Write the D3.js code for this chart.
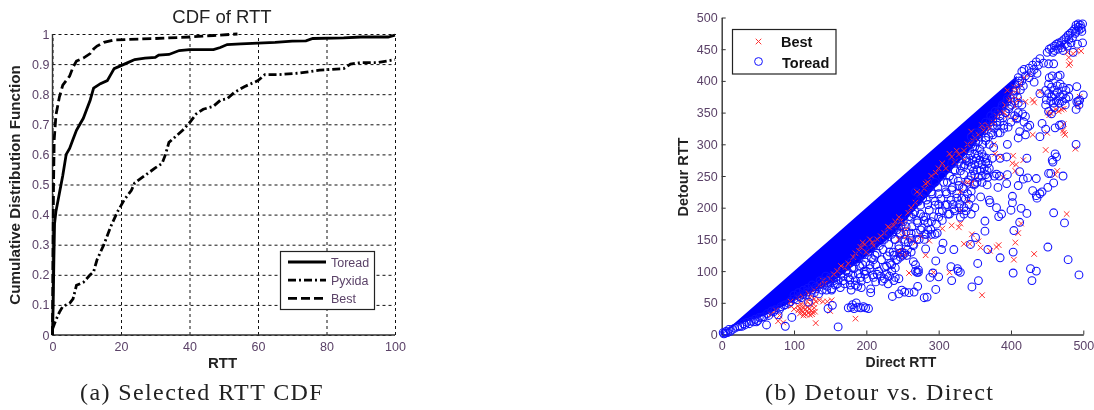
<!DOCTYPE html>
<html>
<head>
<meta charset="utf-8">
<script src="https://cdn.jsdelivr.net/npm/d3@7"></script>
<style>
  html, body { margin: 0; background: #fff; }
  svg { display: block; filter: blur(0.35px); }
  text { font-family: "Liberation Sans", sans-serif; }
  .caption { font-family: "Liberation Serif", serif; font-size: 24px; fill: #222; letter-spacing: 1.4px; }
</style>
</head>
<body>
<svg id="chart" width="1094" height="410"></svg>
<script>
// (a) CDF curves, [rtt, cumulative fraction]
const toreadCdf = [[0,0],[0.2,0.1],[0.4,0.25],[0.6,0.37],[1,0.41],[2,0.47],[3,0.53],[4,0.6],[5,0.62],[6,0.65],[7,0.68],[8,0.7],[9,0.72],[10,0.75],[11,0.78],[12,0.82],[14,0.835],[16,0.845],[17,0.865],[18,0.885],[20,0.895],[22,0.905],[24,0.915],[27,0.92],[30,0.922],[31,0.93],[34,0.932],[37,0.945],[40,0.948],[47,0.948],[49,0.955],[51,0.965],[55,0.967],[60,0.97],[65,0.972],[70,0.976],[74,0.977],[76,0.985],[85,0.987],[90,0.99],[98,0.99],[100,0.996]];
const pyxidaCdf = [[0,0.02],[1,0.05],[2,0.075],[3,0.095],[5,0.105],[6,0.12],[7,0.165],[9,0.175],[11,0.2],[12,0.21],[13,0.25],[15,0.3],[17,0.36],[19,0.41],[21,0.45],[23,0.48],[24,0.505],[27,0.53],[30,0.555],[32,0.57],[33,0.6],[34,0.64],[36,0.66],[38,0.68],[40,0.705],[42,0.735],[44,0.75],[47,0.76],[49,0.78],[51,0.785],[53,0.805],[56,0.825],[60,0.845],[62,0.865],[66,0.865],[72,0.87],[78,0.88],[85,0.885],[87,0.9],[90,0.905],[95,0.905],[100,0.915]];
const bestCdf = [[0,0],[0.1,0.2],[0.2,0.35],[0.3,0.5],[0.5,0.65],[1,0.73],[2,0.79],[3,0.83],[5,0.86],[6,0.89],[7,0.91],[9,0.92],[11,0.935],[12,0.95],[13,0.96],[15,0.972],[18,0.98],[22,0.982],[30,0.985],[40,0.99],[47,0.995],[54,1]];
const cdfXTicks = [0,20,40,60,80,100];
const cdfYTicks = [0,0.1,0.2,0.3,0.4,0.5,0.6,0.7,0.8,0.9,1];
const cdfNames = ["Toread","Pyxida","Best"];

// (b) scatter. The solid part of the wedge is kept as an envelope [direct, lower, upper]
const wedge = [[0,0,0],[18,14,18],[60,30,60],[92,48,92],[152,82,152],[198,122,198],[235,155,235],[274,205,274],[306,245,306],[339,285,339],[367,322,367],[399,372,399],[408,404,408]];
const scatterTicks = [0,100,200,300,400,500];
const scatterYTicks = [0,50,100,150,200,250,300,350,400,450,500];

const toreadSparse = [[161,12],[88,13],[62,15],[97,27],[203,41],[147,41],[153,46],[120,51],[175,42],[179,43],[183,41],[181,47],[186,50],[188,43],[192,42],[196,44],[199,42],[78,31],
[280,58],[284,59],[236,60],[296,71],[271,76],[249,70],[253,67],[245,64],[259,66],[266,67],[206,66],[206,72],[179,70],[193,74],[188,76],
[318,85],[300,91],[288,90],[292,97],[327,100],[330,98],[326,104],[317,107],[354,112],[355,85],[346,75],[296,116],[282,135],[268,100],[270,98],[272,102],[265,115],[262,130],
[304,134],[306,144],[321,134],[344,142],[351,153],[368,134],[385,121],[403,97],[403,130],[429,85],[427,104],[435,100],[451,138],[479,118],[494,94],[474,176],[459,192],[404,164],[412,177],[422,191],[414,199],[364,163],[364,179],[383,186],[387,190],[380,200],[371,208],[370,212],[358,217],[400,196],[402,208],[402,218],[436,215],[440,222],[443,225],[435,219],[430,227],[451,232],[459,239],[472,250],[410,235],[417,245],[423,247],[412,257],[394,238],[382,232],[367,236],[377,250],[380,253],[384,250],[395,252],[435,246],[422,278],[394,280],[385,278],[374,278],[490,300],[457,275],[461,285],[463,280],[458,272],[455,254],[452,254],[410,310],[395,300],[390,325],[396,327],[412,320],[420,315],[423,327],[426,330],[440,312],[448,324],[443,333],[461,326],[467,330],[470,331],[418,335],[408,342],[410,350],[420,344],[416,348]];

const toreadFringe = [[5,2],[8,3],[3,1],[12,5],[15,8],[2,3],[6,5],[10,8],[18,10],[22,12],[28,13],[32,15],[38,17],[44,20],[50,22],[55,27],[48,20],[65,30],[72,36],[80,40],[86,46],
[95,52],[100,56],[108,60],[112,63],[118,67],[125,70],[130,75],[137,80],[143,84],[150,90],[155,85],[160,80],[168,85],[175,90],[145,70],[152,72],[165,95],[172,100],[180,105],[186,115],[178,78],[185,85],[192,90],[198,95],
[200,100],[205,110],[210,118],[195,110],[190,125],[205,135],[212,125],[218,140],[225,150],[230,160],[215,95],[210,90],[220,92],[225,88],[228,95],[232,92],[238,85],[240,90],[245,88],[222,84],[230,80],[213,83],[235,100],[240,105],[235,110],[228,108],[238,125],[232,130],[243,118],[247,122],[250,125],[253,128],[246,128],[256,125],[245,135],[240,150],[247,160],[253,150],[258,145],[265,140],[270,150],[262,160],[255,170],[248,172],[242,165],[235,158],
[272,98],[268,110],[280,150],[285,165],[275,165],[283,158],[290,158],[295,158],[298,160],[280,180],[270,180],[262,185],[265,190],
[275,190],[282,185],[290,178],[300,185],[305,195],[315,190],[322,195],[330,185],[335,190],[338,195],[345,190],[350,200],[342,205],[335,200],[328,200],[320,205],[312,205],[300,205],[295,210],[285,205],[278,215],[272,210],[268,225],[282,225],[290,225],[300,222],[310,225],[318,228],[325,215],[332,215],[340,222],[345,215],
[295,240],[305,250],[312,240],[320,245],[328,235],[335,230],[322,260],[330,258],[335,265],[328,272],[318,270],[340,240],[350,238],[360,240],
[345,300],[350,296],[355,305],[365,310],[370,300],[375,315],[382,318],[375,330],[380,335],[385,345],[392,350],[398,360],[405,345],[408,340],[400,335],[372,345],[378,352],[388,362],[395,372],[403,385],[360,325],[365,335],[352,318],[345,312],[376,295],[385,318],[390,330],[410,365],[415,362]];

// points that crowd just under the solid part and make it look almost filled
const toreadDense = [[25,13],[30,17],[35,19],[41,21],[46,24],[52,27],[58,28],[63,33],[69,37],[74,39],[82,44],[88,47],[93,49],
[100,62],[104,55],[106,66],[110,58],[113,70],[116,62],[119,73],[122,60],[125,78],[128,66],[131,72],[134,64],[136,85],[139,70],[141,78],[144,92],[146,76],[149,84],[152,70],[154,88],[157,78],[159,96],[161,86],[164,74],[166,102],[168,92],[170,80],[173,108],[175,98],[177,86],[179,114],[181,94],[183,104],[185,78],[187,120],[189,96],[191,108],[193,84],[195,126],[197,100],[199,114],[201,88],[203,130],[205,104],[207,120],[209,94],[211,140],[213,110],[215,128],[217,100],[219,148],[221,118],[223,134],[225,106],[227,156],[229,124],[231,142],[233,112],[235,164],[237,130],[239,150],[241,118],[243,172],[245,140],[247,158],[249,130],[251,178],[253,146],[255,162],[257,134],[259,186],[261,152],[263,170],[265,142],[267,194],[269,160],[271,176],[273,150],[275,204],[277,168],[279,186],[281,158],[283,212],[285,176],[287,196],[289,166],[291,222],[293,186],[295,204],[297,174],[299,232],[301,194],[303,214],[305,180],[307,240],[309,204],[311,222],[313,190],[315,250],[317,212],[319,232],[321,198],[323,258],[325,222],[327,242],[329,206],[331,266],[333,232],[335,252],[337,214],[339,274],[341,244],[343,290],[345,226],[347,296],[349,236],[351,304],[353,240],[355,312],[357,292],[359,318],[361,300],[363,322],[365,306],[367,328],[369,312],[371,335],[373,318],[375,340],[377,325],[379,346],[381,330],[383,352],[385,336],[387,358],[389,342],[391,364],[393,350],[395,368],[397,356],[399,372],[401,362],[403,378],[405,368],[407,384],[409,374],[411,396],[413,386],[415,400],[417,392]];

const toreadClusters = [[345,250],[350,252],[355,248],[360,250],[365,252],[368,248],[348,258],[353,260],[358,258],[363,262],[367,258],[370,262],[345,265],[350,268],[355,270],[360,268],[365,272],[368,270],[342,272],[347,275],[352,278],[357,275],[362,280],[366,278],[344,282],[350,285],[355,283],[360,285],[338,278],[336,268],
[405,395],[410,405],[415,415],[418,418],[425,420],[430,425],[435,430],[440,435],[438,425],[432,418],[445,428],[428,413],[436,412],[420,408],[412,400],[425,405],[432,398],[440,380],[448,385],
[450,445],[453,450],[456,452],[460,455],[463,458],[466,460],[470,462],[473,465],[476,468],[479,472],[482,475],[485,478],[488,482],[490,488],[493,490],[496,488],[499,490],[494,480],[498,478],[489,475],[485,468],[480,465],[475,458],[470,452],[465,450],[460,448],[458,445],[483,460],[478,455],[492,458],[499,460],[486,445],[493,485],[490,478],[497,483],[468,456],[472,448],
[452,427],[459,427],[465,407],[468,409],[453,405],[457,408],
[452,395],[456,390],[460,385],[464,392],[468,395],[472,390],[476,385],[480,388],[452,380],[456,375],[460,378],[464,382],[468,375],[472,378],[476,372],[480,375],[455,368],[459,365],[463,368],[467,365],[471,368],[475,362],[449,370],[491,391],[500,378],[491,367],[493,368],[495,370],[490,355],[494,362],[448,362],[460,358],[452,352],[456,348]];

const bestPoints = [[105,45],[108,42],[110,38],[112,35],[114,33],[116,40],[118,37],[120,34],[122,31],[124,38],[126,35],[128,42],[112,42],[115,46],[119,44],[123,47],[127,48],[110,48],[106,38],[113,30],[117,31],[125,32],[121,40],[129,36],[108,33],
[96,45],[95,52],[100,40],[130,52],[135,54],[140,52],[146,52],[152,54],[128,56],[122,58],[118,52],[130,18],[85,19],[78,21],[80,30],[75,38],[185,25],[150,37],[68,32],
[360,62],[432,127],[404,118],[406,145],[410,160],[414,175],[383,141],[380,138],[371,132],[358,137],[355,147],[346,158],[335,143],[343,143],[328,169],[318,172],[305,167],[315,98],[293,98],[282,125],[259,97],[287,148],[256,155],[262,150],[250,165],[245,185],[477,190],[473,318],[475,315],[472,322],[473,332],[448,291],[489,293],[406,258],[403,282],[417,275],[402,270],[407,268],[389,248],[385,280],[376,300],[378,285],[464,258],[461,252],[430,315],[430,370],[432,366],[440,383],[450,318],[455,349],[453,346],[458,352],[451,350],[462,355],[466,352],[473,356],[470,355],[420,367],[410,370],[495,375],[493,362],[478,445],[480,437],[482,428],[480,425],[486,443],[491,448],[497,447],[472,455],[405,340],
[135,78],[140,85],[155,95],[170,105],[185,128],[190,132],[200,130],[210,140],[195,145],[205,150],[220,155],[230,170],[240,178],[247,178],[255,165],[268,145],[275,155],[250,155],[245,150],[252,175],[270,225],[280,230],[285,240],[305,270],[310,262],[315,285],[325,290],[335,275],[335,290],[340,240],[330,225],[335,238],[345,238],[350,245],[340,210],[330,175],[330,195],[345,320],[350,310],[360,330],[370,325],[380,345],[390,350],[395,345],[405,360],[410,370],[400,370],[395,385],[405,390],[418,405],[425,410],
[160,100],[165,108],[175,112],[182,122],[192,138],[198,142],[208,145],[215,150],[225,160],[232,168],[238,172],[258,192],[262,200],[268,208],[274,222],[282,238],[290,250],[296,255],[300,262],[318,280],[322,272],[328,284],[340,300],[348,305],[355,315],[362,322],[368,330],[375,335],[385,350],[392,362],[398,368],[400,380],[408,385],[412,395],[150,88],[142,80],[128,70],[120,65],[112,60],[105,58],[245,130],[248,125],[252,122],[255,128],[250,132]];

const tickColor = "#5b4268";
const svg = d3.select("#chart");

////////////// (a) CDF of RTT
const ax = d3.scaleLinear().domain([0, 100]).range([52.5, 395]);
const ay = d3.scaleLinear().domain([0, 1]).range([335, 34]);
const gridStyle = g => {
  g.select(".domain").remove();
  g.selectAll(".tick line").attr("stroke", "#111").attr("stroke-dasharray", "3,3");
  g.selectAll("text").attr("fill", tickColor).style("font-size", "12.5px");
};
svg.append("g").attr("transform", "translate(0,335)")
  .call(d3.axisBottom(ax).tickValues(cdfXTicks).tickSize(-301).tickPadding(7).tickFormat(d3.format("d")))
  .call(gridStyle);
svg.append("g").attr("transform", "translate(52.5,0)")
  .call(d3.axisLeft(ay).tickValues(cdfYTicks).tickSize(-342.5).tickPadding(3).tickFormat(d => String(d)))
  .call(gridStyle);
svg.append("path").attr("d", d3.line()([[ax(0), ay(1)], [ax(0), ay(0)], [ax(100), ay(0)]]))
  .attr("fill", "none").attr("stroke", "#333").attr("stroke-width", 1.4);

const line = d3.line().x(d => ax(d[0])).y(d => ay(d[1]));
const dashes = [null, "8,3,2,3", "9,4"];
[toreadCdf, pyxidaCdf, bestCdf].forEach((s, i) => {
  svg.append("path").attr("d", line(s)).attr("fill", "none")
    .attr("stroke", "#000").attr("stroke-width", 2.8)
    .attr("stroke-dasharray", dashes[i]);
});

svg.append("text").attr("x", 222).attr("y", 23).attr("text-anchor", "middle")
  .style("font-size", "18.5px").attr("fill", "#222").text("CDF of RTT");
svg.append("text").attr("x", 222.5).attr("y", 368).attr("text-anchor", "middle")
  .style("font-size", "15px").style("font-weight", "bold").attr("fill", "#222").text("RTT");
svg.append("text").attr("transform", "translate(20,185) rotate(-90)").attr("text-anchor", "middle")
  .style("font-size", "15.2px").style("font-weight", "bold").attr("fill", "#222").text("Cumulative Distribution Function");

const leg = svg.append("g");
leg.append("rect").attr("x", 280.5).attr("y", 251.5).attr("width", 94).attr("height", 58)
  .attr("fill", "#fff").attr("stroke", "#222").attr("stroke-width", 1.2);
cdfNames.forEach((n, i) => {
  const ly = 262 + i * 18.2;
  leg.append("line").attr("x1", 288).attr("x2", 326).attr("y1", ly).attr("y2", ly)
    .attr("stroke", "#000").attr("stroke-width", 2.8).attr("stroke-dasharray", dashes[i]);
  leg.append("text").attr("x", 331).attr("y", ly + 5).style("font-size", "12.5px")
    .attr("fill", tickColor).text(n);
});

svg.append("text").attr("class", "caption").attr("x", 80).attr("y", 400).text("(a) Selected RTT CDF");

////////////// (b) Detour vs. Direct
const bx = d3.scaleLinear().domain([0, 500]).range([721.7, 1083.3]);
const by = d3.scaleLinear().domain([0, 500]).range([334.5, 17.5]);
const plainAxis = g => {
  g.select(".domain").attr("stroke", "#333").attr("stroke-width", 1.4);
  g.selectAll(".tick line").attr("stroke", "#333");
  g.selectAll("text").attr("fill", tickColor).style("font-size", "12.5px");
};
svg.append("g").attr("transform", "translate(0,334.5)")
  .call(d3.axisBottom(bx).tickValues(scatterTicks).tickSizeInner(-4).tickSizeOuter(0).tickPadding(7))
  .call(plainAxis);
svg.append("g").attr("transform", "translate(721.7,0)")
  .call(d3.axisLeft(by).tickValues(scatterYTicks).tickSizeInner(-4).tickSizeOuter(0).tickPadding(4))
  .call(plainAxis);

const drawToread = (parent, pts) => parent.append("g").selectAll("circle").data(pts).join("circle")
  .attr("cx", d => bx(d[0])).attr("cy", d => by(d[1])).attr("r", 3.9)
  .attr("fill", "none").attr("stroke", "#1010ff").attr("stroke-width", 1.05);

svg.append("path")
  .attr("d", d3.area().x(d => bx(d[0])).y0(d => by(d[1])).y1(d => by(d[2]))(wedge))
  .attr("fill", "#0000ff");
drawToread(svg, toreadDense);

const xMark = d3.symbol().type(d3.symbolX).size(22);
svg.append("g").selectAll("path").data(bestPoints).join("path")
  .attr("d", xMark)
  .attr("transform", d => `translate(${bx(d[0])},${by(d[1])})`)
  .attr("fill", "none").attr("stroke", "#ff3030").attr("stroke-width", 1);

drawToread(svg, [...toreadFringe, ...toreadClusters, ...toreadSparse]);

svg.append("text").attr("x", 901).attr("y", 367).attr("text-anchor", "middle")
  .style("font-size", "14px").style("font-weight", "bold").attr("fill", "#222").text("Direct RTT");
svg.append("text").attr("transform", "translate(688,177) rotate(-90)").attr("text-anchor", "middle")
  .style("font-size", "14.5px").style("font-weight", "bold").attr("fill", "#222").text("Detour RTT");

const leg2 = svg.append("g");
leg2.append("rect").attr("x", 732.5).attr("y", 29.5).attr("width", 103.5).attr("height", 44.5)
  .attr("fill", "#fff").attr("stroke", "#222").attr("stroke-width", 1.2);
leg2.append("path").attr("d", xMark).attr("transform", "translate(758.5,41.5)")
  .attr("fill", "none").attr("stroke", "#ff3030").attr("stroke-width", 1);
leg2.append("circle").attr("cx", 758.5).attr("cy", 61.5).attr("r", 3.9)
  .attr("fill", "none").attr("stroke", "#1010ff");
leg2.append("text").attr("x", 781).attr("y", 46.5).style("font-size", "14.5px").style("font-weight", "bold").attr("fill", "#111").text("Best");
leg2.append("text").attr("x", 782).attr("y", 68).style("font-size", "14.5px").style("font-weight", "bold").attr("fill", "#111").text("Toread");

svg.append("text").attr("class", "caption").attr("x", 765).attr("y", 400).text("(b) Detour vs. Direct");
</script>
</body>
</html>
